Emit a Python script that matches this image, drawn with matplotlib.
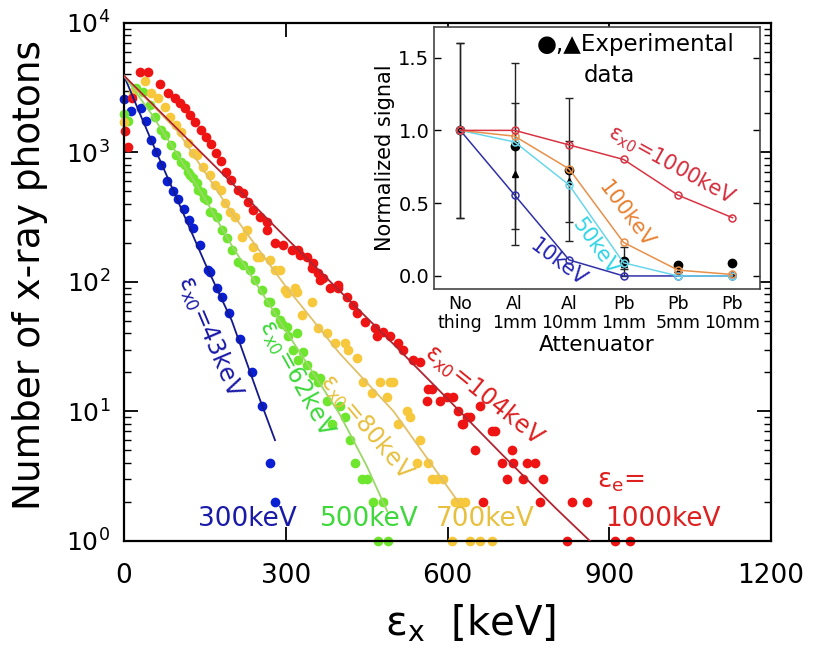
import numpy as np
import matplotlib.pyplot as plt
from matplotlib.ticker import LogLocator, NullFormatter

plt.rcParams['font.family'] = ['DejaVu Sans']
plt.rcParams['mathtext.fontset'] = 'dejavusans'

# ---- main plot: measured spectra (points) ----
blue_E = [0, 13, 31, 41, 50, 59, 69, 80, 91, 100, 111, 120, 128, 141, 156, 160,
          172, 182, 195, 215, 237, 256, 271, 280]
blue_N = [2600, 2100, 2200, 1730, 1250, 1000, 800, 600, 505, 440, 365, 300, 260,
          194, 124, 120, 90, 76, 58, 36, 20, 11, 4, 2]

green_E = [0, 7, 22, 35, 48, 57, 69, 76, 87, 96, 106, 113, 119, 122, 128, 135, 137,
           145, 148, 154, 159, 163, 172, 182, 191, 200, 211, 221, 234, 243, 256, 267,
           271, 280, 289, 293, 302, 304, 313, 321, 323, 332, 339, 351, 360, 363, 377,
           386, 401, 410, 419, 428, 441, 451, 462, 471, 480, 490]
green_N = [1980, 1750, 3150, 2930, 2330, 1880, 1490, 1365, 1140, 957, 845, 800, 707,
           670, 635, 581, 513, 495, 445, 430, 347, 347, 318, 252, 219, 177, 143, 135,
           124, 104, 87, 70, 70, 59, 51, 47, 45, 38, 30, 40, 25, 29, 23, 19, 17, 18,
           12, 8, 11, 9, 6, 4, 3, 3, 2, 1, 2, 1]

yellow_E = [0, 17, 39, 50, 63, 76, 85, 96, 106, 119, 128, 135, 147, 159, 169, 180,
            187, 197, 206, 219, 228, 239, 247, 252, 271, 280, 289, 299, 302, 317, 321,
            330, 349, 360, 376, 391, 410, 415, 432, 443, 460, 475, 488, 493, 499, 508,
            525, 530, 543, 549, 564, 571, 580, 592, 608, 614, 623, 632, 642, 660, 682]
yellow_N = [1720, 2930, 3570, 2880, 2640, 2245, 1880, 1630, 1440, 1185, 990, 957, 773,
            670, 561, 513, 407, 347, 318, 222, 252, 186, 156, 156, 148, 124, 124, 87,
            82, 90, 84, 56, 70, 44, 40, 34, 34, 30, 26, 17, 14, 17, 13, 17, 17, 8, 10,
            9, 4, 6, 4, 3, 3, 3, 1, 2, 2, 2, 1, 1, 1]

red_E = [2, 8, 15, 30, 45, 67, 82, 95, 104, 113, 122, 132, 143, 152, 161, 171, 180,
         189, 198, 211, 221, 230, 239, 252, 265, 265, 280, 295, 312, 323, 326, 339,
         349, 351, 360, 363, 369, 382, 397, 397, 414, 425, 432, 447, 465, 469, 480,
         493, 508, 517, 536, 549, 562, 564, 571, 586, 599, 610, 619, 627, 629, 636,
         642, 651, 660, 666, 682, 688, 701, 710, 720, 721, 740, 747, 762, 772, 777,
         822, 831, 859, 911, 938]
red_N = [1460, 1100, 2640, 4190, 4190, 3380, 2880, 2640, 2410, 2210, 1950, 1720, 1490,
         1320, 1160, 990, 860, 707, 613, 513, 487, 415, 360, 318, 290, 252, 200, 193,
         177, 177, 160, 156, 128, 140, 117, 104, 107, 90, 90, 95, 77, 66, 58, 49, 44,
         38, 41, 38, 34, 30, 25, 24, 12, 15, 15, 12, 13, 13, 10, 8, 8, 9, 9, 5, 11, 2,
         7, 7, 4, 3, 5, 4, 3, 4, 4, 2, 3, 1, 2, 2, 1, 1]

# ---- main plot: fitted curves ----
blue_line_E = [0, 25, 50, 100, 150, 200, 250, 280]
blue_line_N = [3900, 2200, 1250, 420, 140, 50, 13, 6]
green_line_E = [0, 50, 100, 150, 200, 250, 300, 350, 400, 450, 488]
green_line_N = [3900, 2000, 950, 440, 190, 90, 42, 20, 9.5, 3.8, 1.7]
yellow_line_E = [0, 100, 200, 300, 400, 500, 620]
yellow_line_N = [3900, 1450, 340, 92, 28, 10, 2]
red_line_E = [0, 100, 200, 300, 400, 500, 600, 700, 800, 864]
red_line_N = [3900, 1500, 580, 220, 85, 33, 12.5, 4.7, 1.8, 1.0]

# ---- inset ----
attenuators = ['No\nthing', 'Al\n1mm', 'Al\n10mm', 'Pb\n1mm', 'Pb\n5mm', 'Pb\n10mm']
sim_1000 = [1.0, 1.0, 0.90, 0.80, 0.555, 0.40]
sim_100 = [1.0, 0.96, 0.735, 0.23, 0.04, 0.01]
sim_50 = [1.0, 0.92, 0.625, 0.09, 0.0, 0.0]
sim_10 = [1.0, 0.555, 0.11, 0.0, 0.0, 0.0]
exp_circ = [1.0, 0.89, 0.73, 0.10, 0.075, 0.09]
exp_circ_err = [0.6, 0.57, 0.49, 0.10, 0.0, 0.0]
exp_tri = [1.0, 0.70, 0.65, 0.08, 0.03, 0.01]
exp_tri_err = [0.6, 0.49, 0.28, 0.03, 0.0, 0.0]

fig = plt.figure(figsize=(8.16, 6.51), dpi=100)
ax = fig.add_axes([0.152, 0.169, 0.793, 0.796])

series = [
    (blue_E, blue_N, blue_line_E, blue_line_N, '#0a1ed2', '#141a8c'),
    (green_E, green_N, green_line_E, green_line_N, '#6fe62e', '#9ad868'),
    (yellow_E, yellow_N, yellow_line_E, yellow_line_N, '#f7c83c', '#e2c068'),
    (red_E, red_N, red_line_E, red_line_N, '#ee1414', '#b02431'),
]
for E, N, lE, lN, pc, lc in series:
    ax.plot(E, N, 'o', color=pc, ms=7, mec='none', clip_on=False, zorder=2)
for E, N, lE, lN, pc, lc in series:
    ax.plot(lE, lN, '-', color=lc, lw=1.3, zorder=3)

ax.set_yscale('log')
ax.set_xlim(0, 1200)
ax.set_ylim(1, 1e4)
ax.set_xticks([0, 300, 600, 900, 1200])
ax.xaxis.set_major_formatter(plt.FuncFormatter(lambda v, p: '%d' % v))
ax.yaxis.set_major_locator(LogLocator(base=10, numticks=10))
ax.yaxis.set_minor_locator(LogLocator(base=10, subs=np.arange(2, 10), numticks=10))
ax.yaxis.set_minor_formatter(NullFormatter())
ax.tick_params(axis='both', which='major', direction='in', length=10, width=1.3,
               top=True, right=True, labelsize=19)
ax.tick_params(axis='x', pad=16)
ax.tick_params(axis='y', pad=10, labelsize=18)
ax.tick_params(axis='y', which='minor', direction='in', length=5, width=1.0,
               right=True)
for s in ax.spines.values():
    s.set_linewidth(1.6)

fig.text(30 / 816, 1 - 275 / 651, 'Number of x-ray photons', rotation=90,
         ha='center', va='center', fontsize=27)
fig.text(385 / 816, 1 - 624 / 651, r'ε$_{\mathregular{x}}$  [keV]',
         ha='left', va='center', fontsize=29)

# annotations on the main plot
ax.text(159, 38, r'ε$_{\mathregular{x0}}$=43keV', color='#1a1aa8', fontsize=17,
        rotation=-67, ha='center', va='center')
ax.text(319, 18, r'ε$_{\mathregular{x0}}$=62keV', color='#3ed83a', fontsize=17,
        rotation=-61, ha='center', va='center')
ax.text(449, 7.6, r'ε$_{\mathregular{x0}}$=80keV', color='#e8c040', fontsize=17,
        rotation=-50, ha='center', va='center')
ax.text(668, 13.4, r'ε$_{\mathregular{x0}}$=104keV', color='#dd2020', fontsize=17,
        rotation=-39, ha='center', va='center')
ax.text(877, 2.9, r'ε$_{\mathregular{e}}$=', color='#dd2020', fontsize=19,
        ha='left', va='center')
ax.text(1000, 1.48, '1000keV', color='#dd2020', fontsize=19, ha='center', va='center')
ax.text(228, 1.48, '300keV', color='#1a1aa8', fontsize=19, ha='center', va='center')
ax.text(454, 1.48, '500keV', color='#3ed83a', fontsize=19, ha='center', va='center')
ax.text(670, 1.48, '700keV', color='#e8c040', fontsize=19, ha='center', va='center')

# ---- inset ----
axin = fig.add_axes([0.532, 0.556, 0.399, 0.4025])
pos = np.arange(len(attenuators))
axin.errorbar(pos, exp_circ, yerr=exp_circ_err, fmt='none', ecolor='#222222',
              elinewidth=1.0, capsize=3, zorder=2)
axin.errorbar(pos, exp_tri, yerr=exp_tri_err, fmt='none', ecolor='#222222',
              elinewidth=1.0, capsize=3, zorder=2)
axin.plot(pos, exp_circ, 'o', color='black', ms=6, zorder=3)
axin.plot(pos, exp_tri, '^', color='black', ms=5, zorder=3)
for vals, c in [(sim_10, '#3030a8'), (sim_50, '#6ad6ec'), (sim_100, '#e8904a'),
                (sim_1000, '#d83444')]:
    axin.plot(pos, vals, '-o', color=c, lw=1.1, ms=5, mfc='none', mew=1.1, zorder=4)

axin.set_xlim(-0.48, 5.5)
axin.set_ylim(-0.09, 1.71)
axin.set_xticks(pos)
axin.set_xticklabels(attenuators, fontsize=12.5, linespacing=1.1)
axin.set_yticks([0.0, 0.5, 1.0, 1.5])
axin.set_yticklabels(['0.0', '0.5', '1.0', '1.5'], fontsize=14)
axin.tick_params(axis='both', direction='in', length=5, width=1.0, right=True)
axin.tick_params(axis='x', length=0, pad=4)
axin.set_ylabel('Normalized signal', fontsize=15, labelpad=2)
axin.set_xlabel('Attenuator', fontsize=15.5, labelpad=2)
for s in axin.spines.values():
    s.set_linewidth(1.2)
    s.set_color('#444444')

axin.text(1.41, 1.59, '●,▲Experimental', fontsize=16.5, ha='left', va='center')
axin.text(2.26, 1.38, 'data', fontsize=16.5, ha='left', va='center')
axin.text(3.89, 0.76, r'ε$_{\mathregular{x0}}$=1000keV', color='#d42c3c', fontsize=15,
          rotation=-29, ha='center', va='center')
axin.text(3.05, 0.42, '100keV', color='#e88030', fontsize=15, rotation=-53,
          ha='center', va='center')
axin.text(2.48, 0.20, '50keV', color='#30d4e4', fontsize=15, rotation=-54,
          ha='center', va='center')
axin.text(1.80, 0.09, '10keV', color='#2424b4', fontsize=15, rotation=-37,
          ha='center', va='center')

fig.savefig('out.png', dpi=100)
